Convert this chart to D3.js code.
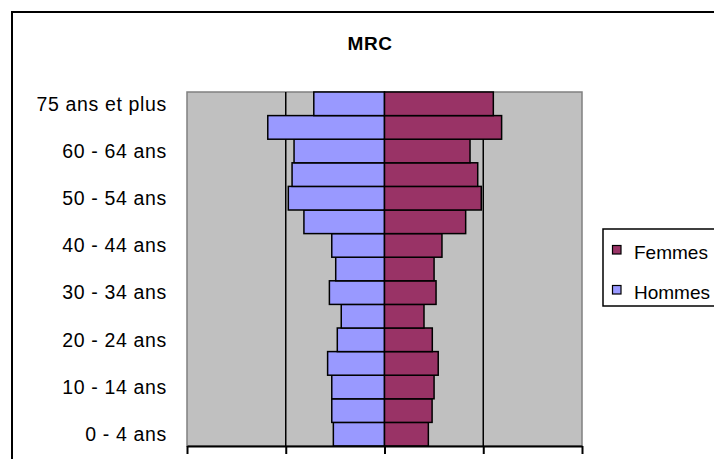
<!DOCTYPE html>
<html>
<head>
<meta charset="utf-8">
<script src="https://cdn.jsdelivr.net/npm/d3@7"></script>
<style>
  html, body { margin: 0; padding: 0; background: #fff; }
  svg { display: block; }
  text { font-family: "Liberation Sans", Arial, sans-serif; }
</style>
</head>
<body>
<svg id="chart" width="714" height="459"></svg>
<script>
// Age groups, bottom to top
const categories = ["0 - 4 ans","5 - 9 ans","10 - 14 ans","15 - 19 ans","20 - 24 ans","25 - 29 ans",
  "30 - 34 ans","35 - 39 ans","40 - 44 ans","45 - 49 ans","50 - 54 ans","55 - 59 ans",
  "60 - 64 ans","65 - 74 ans","75 ans et plus"];
// Shares of population (%), same order
const hommes = [2.59, 2.67, 2.67, 2.88, 2.39, 2.19, 2.79, 2.47, 2.67, 4.08, 4.87, 4.68, 4.58, 5.91, 3.58];
const femmes = [2.22, 2.41, 2.51, 2.72, 2.42, 2.00, 2.61, 2.51, 2.91, 4.11, 4.90, 4.72, 4.33, 5.93, 5.51];
const xTicks = [-10, -5, 0, 5, 10];
const seriesNames = ["Femmes", "Hommes"];
const seriesColors = ["#993366", "#9999FF"];
const title = "MRC";

const svg = d3.select("#chart");
const L = 187, R = 582, T = 92, B = 446;

const x = d3.scaleLinear().domain([-10, 10]).range([L, R]);
const y = d3.scaleBand().domain(categories.slice().reverse()).range([T, B]).padding(0);

// outer chart border
svg.append("rect").attr("x", 12).attr("y", 12).attr("width", 800).attr("height", 600)
  .attr("fill", "#fff").attr("stroke", "#000").attr("stroke-width", 2);

// title
svg.append("text").attr("x", 370).attr("y", 50).attr("text-anchor", "middle")
  .attr("font-size", 19).attr("font-weight", "bold").attr("letter-spacing", 0.6).text(title);

// plot background
svg.append("rect").attr("x", L).attr("y", T).attr("width", R - L).attr("height", B - T)
  .attr("fill", "#C0C0C0").attr("stroke", "#808080").attr("stroke-width", 1.5);

// gridlines
svg.append("g").selectAll("line").data(xTicks.filter(d => d !== -10 && d !== 10 && d !== 0))
  .join("line").attr("x1", d => x(d)).attr("x2", d => x(d)).attr("y1", T).attr("y2", B)
  .attr("stroke", "#000").attr("stroke-width", 1.5);

// bars
const data = categories.map((c, i) => ({c, h: hommes[i], f: femmes[i]}));
svg.append("g").selectAll("rect").data(data).join("rect")
  .attr("x", d => x(-d.h)).attr("width", d => x(0) - x(-d.h))
  .attr("y", d => y(d.c)).attr("height", y.bandwidth())
  .attr("fill", seriesColors[1]).attr("stroke", "#000").attr("stroke-width", 1.5);
svg.append("g").selectAll("rect").data(data).join("rect")
  .attr("x", x(0)).attr("width", d => x(d.f) - x(0))
  .attr("y", d => y(d.c)).attr("height", y.bandwidth())
  .attr("fill", seriesColors[0]).attr("stroke", "#000").attr("stroke-width", 1.5);

// x axis
const xAxis = d3.axisBottom(x).tickValues(xTicks).tickFormat("").tickSize(8).tickSizeOuter(0);
const gx = svg.append("g").attr("transform", `translate(0,${B})`).call(xAxis);
gx.select(".domain").attr("stroke", "#000").attr("stroke-width", 2);
gx.selectAll(".tick line").attr("stroke", "#000").attr("stroke-width", 2);

// y axis labels (every other category)
const yAxis = d3.axisLeft(y).tickValues(categories.filter((c, i) => i % 2 === 0)).tickSize(0).tickPadding(20);
const gy = svg.append("g").attr("transform", `translate(${L},0)`).call(yAxis);
gy.select(".domain").remove();
gy.selectAll(".tick text").attr("font-size", 19.5).attr("fill", "#000")
  .attr("font-family", "Liberation Sans, Arial, sans-serif").attr("letter-spacing", 0.65)
  .attr("dy", "0.35em");

// legend
const lg = svg.append("g");
lg.append("rect").attr("x", 603).attr("y", 229).attr("width", 200).attr("height", 77)
  .attr("fill", "#fff").attr("stroke", "#000").attr("stroke-width", 1.5);
seriesNames.forEach((n, i) => {
  lg.append("rect").attr("x", 612.5).attr("y", 245.5 + i * 40).attr("width", 8.5).attr("height", 8.5)
    .attr("fill", seriesColors[i]).attr("stroke", "#000").attr("stroke-width", 1.2);
  lg.append("text").attr("x", 634).attr("y", 258.5 + i * 40).attr("font-size", 19).text(n);
});
</script>
</body>
</html>
